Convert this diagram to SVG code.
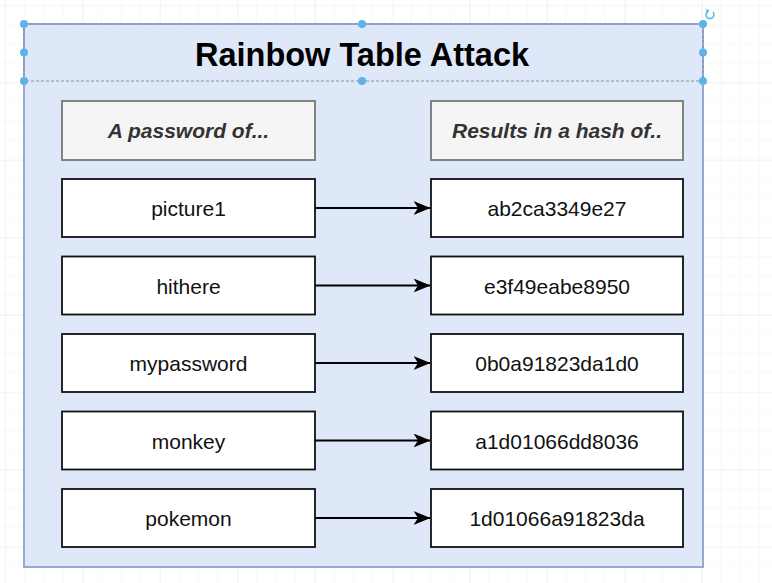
<svg xmlns="http://www.w3.org/2000/svg" width="772" height="583" viewBox="0 0 772 583">
<defs>
<pattern id="minor" x="5.5" y="5.4" width="19.35" height="19.35" patternUnits="userSpaceOnUse">
<path d="M19.35 0V19.35M0 19.35H19.35" fill="none" stroke="#f3f3f3" stroke-width="1"/>
</pattern>
<pattern id="major" x="5.5" y="5.4" width="77.4" height="77.4" patternUnits="userSpaceOnUse">
<path d="M0 0V77.4M0 0H77.4" fill="none" stroke="#e9e9e9" stroke-width="1"/>
</pattern>
<marker id="arr" viewBox="0 0 17 14" refX="16.5" refY="7" markerWidth="17" markerHeight="14" markerUnits="userSpaceOnUse" orient="auto">
<path d="M0 0L17 7L0 14L4.5 7Z" fill="#000"/>
</marker>
</defs>
<style>
.box{fill:#fff;stroke:#111;stroke-width:1.8}
.hdr{fill:#f5f5f5;stroke:#777;stroke-width:1.8}
.t{font-family:"Liberation Sans",Arial,sans-serif;font-size:21px;fill:#111;text-anchor:middle}
.ht{font-family:"Liberation Sans",Arial,sans-serif;font-size:21px;font-weight:bold;font-style:italic;fill:#333;text-anchor:middle}
.h{fill:#5ab4ea}
.c{fill:none;stroke:#000;stroke-width:1.8}
</style>
<rect width="772" height="583" fill="#fff"/>
<rect width="772" height="583" fill="url(#minor)"/>
<rect width="772" height="583" fill="url(#major)"/>
<g id="container">
<rect x="24" y="24" width="679" height="543" fill="#dfe8f9" stroke="#94a9d6" stroke-width="2"/>
<rect x="24" y="24" width="679" height="57" fill="none" stroke="#8a8f9a" stroke-width="1.2" stroke-dasharray="3 2"/>
<text x="362" y="66" font-family="'Liberation Sans',Arial,sans-serif" font-size="32.5" font-weight="bold" text-anchor="middle" fill="#000">Rainbow Table Attack</text>
<g id="handles">
<circle class="h" cx="24" cy="24" r="4"/><circle class="h" cx="362" cy="24" r="4"/><circle class="h" cx="703" cy="24" r="4"/>
<circle class="h" cx="24" cy="52.5" r="4"/><circle class="h" cx="703" cy="52.5" r="4"/>
<circle class="h" cx="24" cy="81" r="4"/><circle class="h" cx="362" cy="81" r="4"/><circle class="h" cx="703" cy="81" r="4"/>
<path d="M707.5 11.5A4 4 0 1 0 713 12" fill="none" stroke="#5ab4ea" stroke-width="1.5"/>
<path d="M705.5 9.5L709.5 10L707.5 13.5Z" fill="#5ab4ea"/>
</g>
</g>
<g id="header-left"><rect class="hdr" x="62" y="101" width="253" height="59"/><text class="ht" x="188.5" y="138">A password of...</text></g>
<g id="header-right"><rect class="hdr" x="431" y="101" width="252" height="59"/><text class="ht" x="557" y="138">Results in a hash of..</text></g>
<g id="p1"><rect class="box" x="62" y="179" width="253" height="58"/><text class="t" x="188.5" y="216">picture1</text></g>
<g id="p2"><rect class="box" x="62" y="256.5" width="253" height="58"/><text class="t" x="188.5" y="293.5">hithere</text></g>
<g id="p3"><rect class="box" x="62" y="334" width="253" height="58"/><text class="t" x="188.5" y="371">mypassword</text></g>
<g id="p4"><rect class="box" x="62" y="411.5" width="253" height="58"/><text class="t" x="188.5" y="448.5">monkey</text></g>
<g id="p5"><rect class="box" x="62" y="489" width="253" height="58"/><text class="t" x="188.5" y="526">pokemon</text></g>
<g id="h1"><rect class="box" x="431" y="179" width="252" height="58"/><text class="t" x="557" y="216">ab2ca3349e27</text></g>
<g id="h2"><rect class="box" x="431" y="256.5" width="252" height="58"/><text class="t" x="557" y="293.5">e3f49eabe8950</text></g>
<g id="h3"><rect class="box" x="431" y="334" width="252" height="58"/><text class="t" x="557" y="371">0b0a91823da1d0</text></g>
<g id="h4"><rect class="box" x="431" y="411.5" width="252" height="58"/><text class="t" x="557" y="448.5">a1d01066dd8036</text></g>
<g id="h5"><rect class="box" x="431" y="489" width="252" height="58"/><text class="t" x="557" y="526">1d01066a91823da</text></g>
<g id="connectors">
<path class="c" d="M315 208H430" marker-end="url(#arr)"/>
<path class="c" d="M315 285.5H430" marker-end="url(#arr)"/>
<path class="c" d="M315 363H430" marker-end="url(#arr)"/>
<path class="c" d="M315 440.5H430" marker-end="url(#arr)"/>
<path class="c" d="M315 518H430" marker-end="url(#arr)"/>
</g>
</svg>
